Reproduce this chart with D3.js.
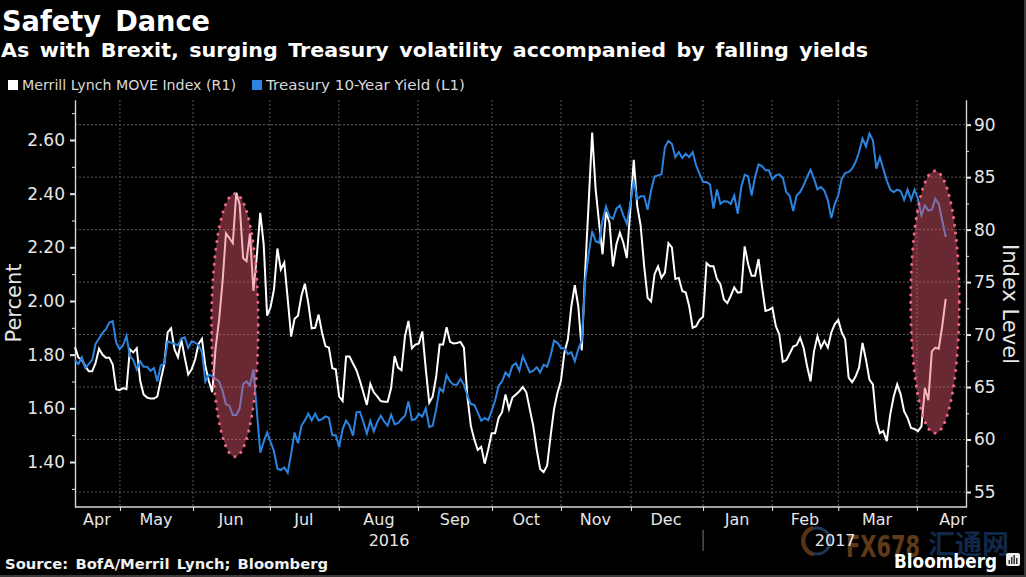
<!DOCTYPE html>
<html>
<head>
<meta charset="utf-8">
<script src="https://d3js.org/d3.v7.min.js"></script>
<style>
  html, body { margin: 0; padding: 0; background: #000; }
  svg { display: block; }
  text { font-family: "DejaVu Sans", sans-serif; }
</style>
</head>
<body>
<div id="chart"></div>
<script>
// one value per trading day, starting mid April 2016
var yieldValues = [
  1.78,1.765,1.79,1.75,1.765,1.78,1.84,1.86,1.88,1.895,
  1.92,1.925,1.845,1.82,1.835,1.87,1.795,1.78,1.745,1.775,
  1.755,1.755,1.74,1.75,1.70,1.76,1.765,1.85,1.845,1.84,
  1.835,1.86,1.865,1.825,1.85,1.845,1.835,1.81,1.70,1.725,
  1.72,1.71,1.70,1.665,1.615,1.61,1.575,1.575,1.60,1.69,
  1.70,1.685,1.745,1.59,1.435,1.475,1.51,1.475,1.44,1.375,
  1.37,1.38,1.36,1.43,1.51,1.47,1.535,1.555,1.58,1.555,
  1.58,1.555,1.56,1.57,1.565,1.50,1.50,1.455,
  1.523,1.554,1.535,1.498,1.585,1.587,1.548,1.506,1.554,1.514,
  1.548,1.572,1.551,1.535,1.576,1.541,1.545,1.56,1.572,1.626,
  1.556,1.56,1.579,1.569,1.60,1.531,1.535,1.597,1.674,1.662,
  1.724,1.70,1.688,1.688,1.709,1.688,1.647,1.616,1.613,1.585,
  1.554,1.564,1.556,1.591,1.628,1.684,1.70,1.734,1.719,1.759,
  1.768,1.74,1.794,1.765,1.734,1.74,1.753,1.734,1.763,1.755,
  1.796,1.852,1.844,1.825,1.824,1.802,1.809,1.775,1.821,1.852,
  2.076,2.176,2.26,2.223,2.217,2.30,2.352,2.315,2.306,2.344,
  2.356,2.319,2.288,2.362,2.449,2.38,2.39,2.39,2.34,2.412,
  2.464,2.468,2.472,2.574,2.596,
  2.586,2.536,2.555,2.533,2.549,2.536,2.555,2.505,2.474,2.443,
  2.443,2.434,2.344,2.416,2.362,2.372,2.371,2.362,2.393,2.325,
  2.424,2.47,2.465,2.393,2.462,2.509,2.503,2.487,2.487,2.453,
  2.468,2.472,2.459,2.406,2.391,2.335,2.393,2.406,2.431,2.462,
  2.489,2.456,2.416,2.425,2.412,2.375,2.309,2.362,2.393,2.456,
  2.477,2.481,2.493,2.518,2.555,2.605,2.576,2.624,2.599,2.493,
  2.536,2.493,2.449,2.415,2.406,2.415,2.41,2.377,2.415,2.377,
  2.415,2.381,2.319,2.356,2.337,2.34,2.381,2.362,2.30,2.238
];
var moveValues = [
  68.8,67.8,67.6,67.0,66.5,66.5,67.3,68.65,68.1,67.8,
  67.8,67.15,64.8,64.7,64.9,64.8,68.6,68.3,68.7,65.6,
  64.3,64.0,63.9,63.9,64.1,65.7,67.15,70.2,70.6,68.6,
  67.85,69.5,67.8,66.2,66.7,67.6,69.1,69.6,67.0,65.6,
  64.5,68.75,71.4,75.0,79.65,79.2,78.7,83.5,82.4,77.3,
  77.0,79.65,74.15,77.5,81.6,78.6,71.8,72.6,74.3,78.2,
  76.2,76.85,73.4,69.8,71.5,71.8,73.7,74.85,73.0,70.6,
  70.65,71.9,70.2,68.9,68.75,66.8,66.7,64.1,
  63.66,67.9,67.9,67.25,66.6,65.6,64.45,63.3,65.3,64.5,
  64.1,63.66,63.6,63.6,64.9,67.95,66.85,66.6,69.85,71.3,
  68.7,69.05,69.15,70.3,66.7,63.5,64.1,66.0,69.05,69.05,
  70.7,69.3,69.15,69.2,69.3,68.75,64.1,61.3,60.0,59.0,
  59.3,57.7,59.05,60.6,60.6,62.05,62.6,64.3,62.9,64.0,
  64.3,64.6,65.0,64.5,62.9,61.3,59.05,57.2,56.9,57.5,
  60.3,62.9,64.45,65.6,68.3,69.55,72.7,74.7,72.7,68.5,
  76.2,82.6,89.25,83.85,80.65,77.65,81.7,80.65,76.5,78.6,
  79.7,78.75,77.3,81.9,86.65,82.25,80.35,76.55,73.5,73.15,
  75.75,76.5,75.4,75.9,78.7,
  78.3,75.3,75.4,74.15,74.0,72.7,70.65,70.8,71.4,71.7,
  76.8,76.5,76.5,75.3,74.8,73.35,73.0,73.7,74.5,74.0,
  74.05,78.4,76.7,75.6,75.6,77.2,74.6,72.25,72.35,72.55,
  70.8,70.0,67.4,67.55,68.2,68.85,69.0,69.7,68.75,67.0,
  65.55,68.4,69.85,68.75,69.4,68.75,70.2,71.0,71.4,70.2,
  69.55,65.9,65.45,66.0,66.85,69.2,67.6,65.7,65.25,61.75,
  60.6,60.8,59.85,62.4,64.1,65.25,64.3,62.7,62.05,61.1,
  61.0,60.8,61.25,64.9,63.75,68.4,68.75,68.65,70.8,73.4
];

// month boundaries and label spots, in trading days from the first point
var monthStarts = [13.1, 34.4, 56.8, 76.9, 99.75, 121.1, 141, 161.2, 182, 201.9, 221, 243.7];
var monthNames = ["Apr","May","Jun","Jul","Aug","Sep","Oct","Nov","Dec","Jan","Feb","Mar","Apr"];
var monthLabelDays = [6.4, 23.6, 45.5, 66.7, 88.5, 110.4, 131, 150.9, 171.3, 191.8, 211.4, 232.2, 254.1];
var yearNames = ["2016", "2017"];
var yearLabelDays = [91.4, 220.1];
var yearBreakDay = 182;

var leftTicks = [1.4, 1.6, 1.8, 2.0, 2.2, 2.4, 2.6];
var leftMinorTicks = [1.3, 1.5, 1.7, 1.9, 2.1, 2.3, 2.5, 2.7];
var rightTicks = [55, 60, 65, 70, 75, 80, 85, 90];
var rightMinorTicks = [57.5, 62.5, 67.5, 72.5, 77.5, 82.5, 87.5];

// the two shaded ovals: day range and yield range
var ovalDays = [[39.8, 53.4], [241.9, 255.9]];
var ovalYields = [[1.42, 2.40], [1.507, 2.485]];

var legendNames = ["Merrill Lynch MOVE Index (R1)", "Treasury 10-Year Yield (L1)"];

var width = 1026, height = 577;
var plotLeft = 75, plotRight = 966, plotTop = 100, plotBottom = 507;

var svg = d3.select("#chart").append("svg")
  .attr("width", width)
  .attr("height", height);

svg.append("rect").attr("width", width).attr("height", height).attr("fill", "#000");

// days are a bit tighter before August than after it on the original axis
var x = d3.scaleLinear().domain([0, 78, yieldValues.length - 1]).range([plotLeft, 342.6, 945.7]);
var yLeft = d3.scaleLinear().domain([1.2323, 2.749]).range([plotBottom, plotTop]);
var yRight = d3.scaleLinear().domain([53.57, 92.35]).range([plotBottom, plotTop]);

// grid
svg.append("g").selectAll("line")
  .data(rightTicks)
  .enter().append("line")
  .attr("x1", plotLeft).attr("x2", plotRight)
  .attr("y1", function(d) { return yRight(d); })
  .attr("y2", function(d) { return yRight(d); })
  .attr("stroke", "#5a5a5a").attr("stroke-dasharray", "2,2");

svg.append("g").selectAll("line")
  .data(monthStarts)
  .enter().append("line")
  .attr("x1", function(d) { return x(d); })
  .attr("x2", function(d) { return x(d); })
  .attr("y1", plotTop).attr("y2", plotBottom)
  .attr("stroke", "#5a5a5a").attr("stroke-dasharray", "2,2");

// axes
function styleAxis(g) {
  g.select(".domain").attr("stroke", "#d8d8d8").attr("stroke-width", 1.2);
  g.selectAll(".tick line").attr("stroke", "#e8e8e8");
  g.selectAll("text").attr("fill", "#e6e6e6").style("font-size", "17px");
}

var leftAxis = svg.append("g")
  .attr("transform", "translate(" + plotLeft + ",0)")
  .call(d3.axisLeft(yLeft).tickValues(leftTicks).tickFormat(d3.format(".2f")).tickSize(5).tickPadding(5).tickSizeOuter(0))
  .call(styleAxis);
leftAxis.selectAll(".tick line").attr("stroke-width", 2);

svg.append("g")
  .attr("transform", "translate(" + plotLeft + ",0)")
  .call(d3.axisLeft(yLeft).tickValues(leftMinorTicks).tickFormat("").tickSize(3).tickSizeOuter(0))
  .call(styleAxis);

var rightAxis = svg.append("g")
  .attr("transform", "translate(" + plotRight + ",0)")
  .call(d3.axisRight(yRight).tickValues(rightTicks).tickFormat(d3.format("d")).tickSize(5).tickPadding(3).tickSizeOuter(0))
  .call(styleAxis);
rightAxis.selectAll(".tick line").attr("stroke-width", 2);

svg.append("g")
  .attr("transform", "translate(" + plotRight + ",0)")
  .call(d3.axisRight(yRight).tickValues(rightMinorTicks).tickFormat("").tickSize(3).tickSizeOuter(0))
  .call(styleAxis);

svg.append("line")
  .attr("x1", plotLeft).attr("x2", plotRight).attr("y1", plotBottom).attr("y2", plotBottom)
  .attr("stroke", "#d8d8d8").attr("stroke-width", 1.4);

svg.append("g")
  .attr("transform", "translate(0," + plotBottom + ")")
  .call(d3.axisBottom(x).tickValues(monthStarts).tickFormat("").tickSize(4).tickSizeOuter(0))
  .call(styleAxis)
  .select(".domain").remove();

svg.append("g").selectAll("text")
  .data(monthNames)
  .enter().append("text")
  .attr("x", function(d, i) { return x(monthLabelDays[i]); })
  .attr("y", 525)
  .attr("text-anchor", "middle")
  .attr("fill", "#e6e6e6")
  .style("font-size", "16px")
  .text(function(d) { return d; });

// year row
svg.append("line")
  .attr("x1", x(yearBreakDay)).attr("x2", x(yearBreakDay))
  .attr("y1", 530).attr("y2", 551)
  .attr("stroke", "#777");

// watermark sits under the year label
svg.append("ellipse").attr("cx", 817).attr("cy", 541).attr("rx", 13).attr("ry", 13)
  .attr("fill", "none").attr("stroke", "#1d3556").attr("stroke-width", 3);
svg.append("path").attr("d", d3.arc()({ innerRadius: 12, outerRadius: 16, startAngle: 3.4, endAngle: 6.0 }))
  .attr("transform", "translate(817,541)").attr("fill", "#5a3214");
svg.append("text").attr("x", 846).attr("y", 557)
  .attr("fill", "#5e3a18").style("font-size", "31px").style("font-weight", "bold")
  .attr("textLength", 74).attr("lengthAdjust", "spacingAndGlyphs").text("FX678");
svg.append("text").attr("x", 928).attr("y", 554)
  .attr("fill", "#10284a").style("font-family", "'Noto Sans CJK SC'").style("font-size", "27px")
  .style("font-weight", "bold").text("汇通网");

svg.append("g").selectAll("text")
  .data(yearNames)
  .enter().append("text")
  .attr("x", function(d, i) { return x(yearLabelDays[i]); })
  .attr("y", 546)
  .attr("text-anchor", "middle")
  .attr("fill", "#e6e6e6")
  .style("font-size", "16px")
  .text(function(d) { return d; });

// lines
var moveLine = d3.line()
  .x(function(d, i) { return x(i); })
  .y(function(d) { return yRight(d); });
var yieldLine = d3.line()
  .x(function(d, i) { return x(i); })
  .y(function(d) { return yLeft(d); });

svg.append("path").datum(moveValues)
  .attr("d", moveLine)
  .attr("fill", "none").attr("stroke", "#fff").attr("stroke-width", 2);
svg.append("path").datum(yieldValues)
  .attr("d", yieldLine)
  .attr("fill", "none").attr("stroke", "#2b84e0").attr("stroke-width", 2);

// ovals go over the lines and tint them
svg.append("g").selectAll("ellipse")
  .data(ovalDays)
  .enter().append("ellipse")
  .attr("cx", function(d) { return (x(d[0]) + x(d[1])) / 2; })
  .attr("rx", function(d) { return (x(d[1]) - x(d[0])) / 2; })
  .attr("cy", function(d, i) { return (yLeft(ovalYields[i][0]) + yLeft(ovalYields[i][1])) / 2; })
  .attr("ry", function(d, i) { return (yLeft(ovalYields[i][0]) - yLeft(ovalYields[i][1])) / 2; })
  .attr("fill", "#e85a70").attr("fill-opacity", 0.45)
  .attr("stroke", "#f0648a").attr("stroke-width", 3)
  .attr("stroke-linecap", "round").attr("stroke-dasharray", "0.1,7.5");

// axis titles
svg.append("text")
  .attr("transform", "translate(21,303) rotate(-90)")
  .attr("text-anchor", "middle").attr("fill", "#e6e6e6")
  .style("font-size", "21px").text("Percent");
svg.append("text")
  .attr("transform", "translate(1003,304) rotate(90)")
  .attr("text-anchor", "middle").attr("fill", "#e6e6e6")
  .style("font-size", "21px").text("Index Level");

// header
svg.append("text").attr("x", 2).attr("y", 31)
  .attr("fill", "#fff").style("font-size", "28px").style("font-weight", "bold")
  .style("word-spacing", "5px")
  .attr("textLength", 208).attr("lengthAdjust", "spacingAndGlyphs").text("Safety Dance");
svg.append("text").attr("x", 1).attr("y", 57)
  .attr("fill", "#fff").style("font-size", "19px").style("font-weight", "bold")
  .style("word-spacing", "3px")
  .attr("textLength", 867).attr("lengthAdjust", "spacingAndGlyphs")
  .text("As with Brexit, surging Treasury volatility accompanied by falling yields");

// legend
svg.append("rect").attr("x", 8).attr("y", 80).attr("width", 10).attr("height", 10).attr("fill", "#fff");
svg.append("rect").attr("x", 252).attr("y", 80).attr("width", 10).attr("height", 10).attr("fill", "#2b84e0");
svg.append("text").attr("x", 22).attr("y", 90)
  .attr("fill", "#d8d8d8").style("font-size", "14px")
  .attr("textLength", 214).attr("lengthAdjust", "spacingAndGlyphs").text(legendNames[0]);
svg.append("text").attr("x", 266).attr("y", 90)
  .attr("fill", "#d8d8d8").style("font-size", "14px")
  .attr("textLength", 199).attr("lengthAdjust", "spacingAndGlyphs").text(legendNames[1]);

// footer
svg.append("text").attr("x", 5).attr("y", 569)
  .attr("fill", "#f0f0f0").style("font-size", "14px").style("font-weight", "bold")
  .style("word-spacing", "2px")
  .attr("textLength", 323).attr("lengthAdjust", "spacingAndGlyphs")
  .text("Source: BofA/Merril Lynch; Bloomberg");
svg.append("text").attr("x", 894).attr("y", 568)
  .attr("fill", "#fff").style("font-size", "19px").style("font-weight", "bold")
  .attr("textLength", 103).attr("lengthAdjust", "spacingAndGlyphs").text("Bloomberg");

// small logo next to Bloomberg
svg.append("rect").attr("x", 1006).attr("y", 553).attr("width", 14).attr("height", 13).attr("rx", 2).attr("fill", "#eee");
svg.append("g").selectAll("rect")
  .data([4, 7, 9, 6])
  .enter().append("rect")
  .attr("x", function(d, i) { return 1008.5 + i * 2.5; })
  .attr("y", function(d) { return 564 - d; })
  .attr("width", 1.5)
  .attr("height", function(d) { return d; })
  .attr("fill", "#333");

// thin edge on the screenshot
svg.append("rect").attr("x", 0).attr("y", 575).attr("width", width).attr("height", 2).attr("fill", "#3a3a3a");
svg.append("rect").attr("x", 1024).attr("y", 0).attr("width", 2).attr("height", height).attr("fill", "#3a3a3a");
</script>
</body>
</html>
